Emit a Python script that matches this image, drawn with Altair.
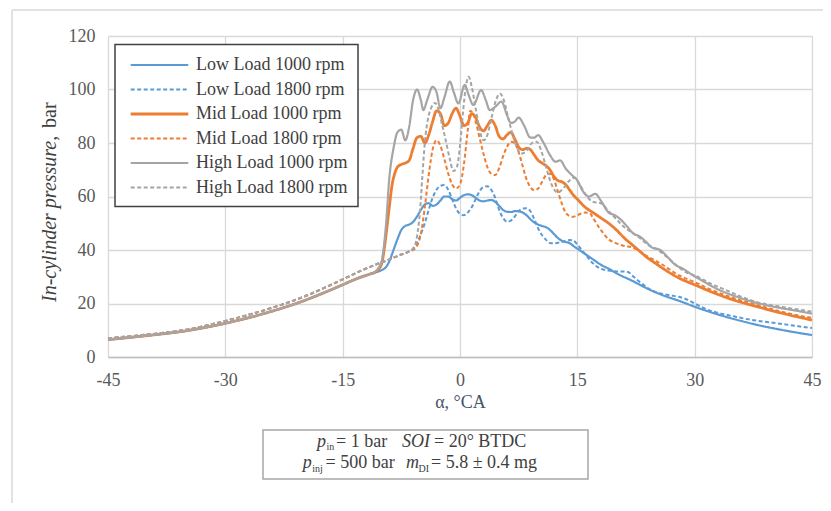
import altair as alt
import pandas as pd

# ---------------- data ----------------
SERIES = ["Low Load 1000 rpm", "Low Load 1800 rpm", "Mid Load 1000 rpm",
          "Mid Load 1800 rpm", "High Load 1000 rpm", "High Load 1800 rpm"]
COLORS = ["#5B9BD5", "#5B9BD5", "#ED7D31", "#ED7D31", "#A5A5A5", "#A5A5A5"]
DASHES = [[1, 0], [4, 2.5], [1, 0], [4, 2.5], [1, 0], [4, 2.5]]
WIDTHS = [2.2, 2.0, 2.8, 2.0, 2.2, 2.0]

X_TICKS = [-45, -30, -15, 0, 15, 30, 45]
Y_TICKS = [0, 20, 40, 60, 80, 100, 120]

# compression part shared by the 1000 rpm (solid) and 1800 rpm (dashed) curves
COMP_SOLID_A = [-45, -40, -35, -30, -25, -20, -17, -15, -13, -11.5]
COMP_SOLID_P = [6.5, 8.0, 9.8, 12.6, 16.3, 21.0, 24.5, 27.0, 29.5, 31.0]
COMP_DASH_A = [-45, -40, -35, -30, -25, -20, -17, -15, -13, -11, -9, -7.5]
COMP_DASH_P = [7.0, 8.4, 10.2, 13.5, 17.5, 22.5, 26.3, 29.0, 31.8, 34.3, 36.5, 38.3]

LOW1000_A = [-11, -10, -9.5, -9, -8.5, -8, -7.5, -7, -6.5, -6, -5.5, -5, -4.5, -4, -3.5, -3, -2.5, -2,
             -1.5, -1, -0.5, 0, 0.5, 1, 1.5, 2, 2.5, 3, 3.5, 4, 4.5, 5, 5.5, 6, 6.5, 7, 7.5, 8, 8.5, 9,
             9.5, 10, 10.5, 11, 11.5, 12, 12.5, 13, 13.5, 14, 14.5, 15, 16, 17, 18, 19, 20, 22, 24, 26,
             28, 30, 32, 35, 38, 41, 45]
LOW1000_P = [31.5, 32.5, 33.5, 36, 40, 44, 47.5, 49, 49.5, 50.5, 52.5, 55, 57, 57.5, 56.5, 57, 58.5, 60,
             60, 59, 58.5, 59.5, 60.5, 60.8, 60.5, 59.5, 58.5, 58.2, 58.5, 58.7, 58, 56.5, 55, 54.3, 54.2,
             54.5, 54.5, 54, 53, 51.5, 50.3, 49.5, 49, 48.5, 47.5, 46, 44.5, 43.5, 43, 42.6, 41.5, 40.5,
             38.5, 36.5, 34.5, 33, 31.3, 28.5, 25.5, 23, 21, 18.8, 16.8, 14.2, 12, 10.2, 8.2]

LOW1800_A = [-7, -6.5, -6, -5.5, -5, -4.5, -4, -3.5, -3, -2.5, -2, -1.5, -1, -0.5, 0, 0.5, 1, 1.5, 2,
             2.5, 3, 3.5, 4, 4.5, 5, 5.5, 6, 6.5, 7, 7.5, 8, 8.5, 9, 9.5, 10, 10.5, 11, 11.5, 12, 13, 14,
             14.5, 15, 16, 17, 18, 19, 20, 21, 21.5, 22, 23, 24, 25, 26, 27, 28, 29, 30, 31, 32, 33, 35,
             37, 40, 42, 45]
LOW1800_P = [38.8, 39.5, 40.5, 42.5, 46, 50, 55, 59.5, 62.5, 64, 64.3, 62.5, 59, 55.5, 53.5, 53, 54, 56,
             59, 62, 63.5, 63.8, 62.5, 59.5, 55, 52, 50.6, 51, 52.5, 54.5, 55.5, 55.6, 54.5, 51.5, 48,
             45.5, 43.8, 42.6, 42.5, 43, 43.7, 43.5, 42, 38.5, 35, 33, 32.3, 32, 32, 31.8, 30.5, 28, 25.8,
             24.3, 23.5, 23, 22.5, 21.5, 20, 18.5, 17.3, 16.5, 15.2, 14, 12.8, 12, 10.8]

MID1000_A = [-11, -10.5, -10, -9.7, -9.4, -9, -8.7, -8.3, -8, -7.5, -7, -6.5, -6, -5.5, -5, -4.5, -4,
             -3.5, -3, -2.5, -2, -1.5, -1, -0.5, 0, 0.5, 1, 1.5, 2, 2.5, 3, 3.5, 4, 4.5, 5, 5.5, 6, 6.5,
             7, 7.5, 8, 8.5, 9, 9.5, 10, 10.5, 11, 11.5, 12, 12.5, 13, 13.5, 14, 14.5, 15, 16, 17, 18,
             19, 20, 21, 22, 23, 24, 25, 26, 28, 30, 32, 35, 38, 41, 45]
MID1000_P = [31.5, 32.5, 35, 40, 47, 57, 64, 69, 71, 72, 72.5, 73.5, 78, 82, 82.5, 80, 83, 88, 92, 91,
             86.5, 87.5, 91, 93, 90, 86.5, 87.5, 91, 89.5, 86, 84.5, 86.5, 88.5, 86.5, 82.5, 81.5, 83, 84,
             81.5, 78.5, 77.5, 78, 77.5, 75.5, 73.5, 72.5, 71.5, 70, 67.5, 66, 65.5, 64.5, 62.5, 60.5, 59,
             56, 54, 52, 50, 47.5, 44.5, 42, 39.5, 37, 35, 33, 29.5, 27, 24.5, 21.3, 18.8, 16.5, 13.8]

MID1800_A = [-7, -6.5, -6, -5.5, -5, -4.5, -4, -3.5, -3, -2.5, -2, -1.5, -1, -0.5, 0, 0.5, 1, 1.3, 1.7,
             2, 2.5, 3, 3.5, 4, 4.5, 5, 5.5, 6, 6.5, 7, 7.5, 8, 8.5, 9, 9.5, 10, 10.5, 11, 11.5, 12, 12.5,
             13, 13.5, 14, 14.5, 15, 16, 16.6, 17, 18, 19, 20, 21, 22, 23, 24, 25, 26, 28, 30, 32, 35,
             38, 41, 45]
MID1800_P = [38.8, 39.5, 40, 41.5, 46, 56, 68, 77.5, 81, 79, 74, 68.5, 64.5, 63, 64.5, 72, 85, 92, 91,
             88, 82, 76, 71, 68.5, 68, 70.5, 75, 78.5, 80.5, 80, 76.5, 71.5, 66.5, 63.5, 62.4, 63, 65.5,
             68, 68.5, 66.5, 62, 57.5, 54, 52.7, 52.4, 53, 54, 53.8, 52, 47.5, 44, 42.5, 41.5, 41, 39.5,
             37.5, 36, 34.3, 30.5, 28, 25.3, 22, 19.5, 17, 14.6]

HIGH1000_A = [-11, -10.5, -10, -9.5, -9, -8.5, -8, -7.5, -7, -6.5, -6, -5.5, -5, -4.7, -4.2, -3.5, -3,
              -2.5, -2, -1.3, -0.8, -0.2, 0.6, 1.1, 1.7, 2.7, 3.3, 3.8, 4.5, 5.3, 6, 6.5, 7, 7.5, 8.2,
              9, 9.5, 10, 10.6, 11.5, 12.2, 12.8, 13.5, 14.3, 15, 15.7, 16.5, 17.3, 18, 19, 19.8, 20.5,
              21.3, 22.1, 23, 23.8, 24.5, 25.6, 26.5, 27.5, 28.5, 29.8, 31, 32.5, 34, 35.4, 37, 39, 41,
              43, 45]
HIGH1000_P = [31.5, 33, 36, 48, 68, 78, 84, 85, 81, 86, 96, 100, 96, 92.3, 96, 101, 99, 93, 97, 103, 99,
              94.8, 101.7, 98, 94.2, 99.8, 96, 92.3, 93.5, 95.5, 90.5, 87.5, 88, 89.5, 86.5, 82, 82, 83,
              80.5, 75.5, 73, 73.5, 70.5, 68, 66, 62, 60, 61, 58.5, 54, 53, 51.5, 49, 46.3, 45, 43, 41,
              40, 37.5, 34.5, 33, 30.5, 28.5, 26, 24, 22.5, 21, 19.5, 18.3, 17.3, 16.2]

HIGH1800_A = [-7, -6.5, -6, -5.5, -5.1, -4.8, -4.5, -4.1, -3.7, -3.2, -2.7, -2.3, -1.9, -1.3, -0.85,
              -0.4, 0, 0.4, 0.8, 1.1, 1.5, 2, 2.5, 3, 3.5, 4, 4.6, 5.1, 5.6, 6.2, 7, 7.8, 8.5, 9.2, 9.8,
              10.4, 11, 11.7, 12.5, 13.2, 14, 14.6, 15.2, 16, 17, 18, 19, 20, 21, 22, 23, 24, 25, 26, 27,
              28, 29, 30, 32, 34, 36, 38, 40, 42, 45]
HIGH1800_P = [38.8, 39.5, 40.5, 45, 55, 68, 80, 89, 93, 95, 92, 87, 82, 74, 69.5, 71, 79, 92, 102, 104.8,
              101, 93, 85, 81, 83, 89, 96, 98.5, 96, 89, 80.5, 76, 77, 80, 80.5, 77, 71, 64.5, 61.5, 63,
              66, 67, 65, 61, 58, 57.5, 54.5, 51.5, 48.5, 46.5, 44.5, 42, 40.5, 38.5, 36, 33.5, 31.5,
              30.5, 27.5, 25, 22.5, 20.5, 19.3, 18.3, 17]

# annotation box text pieces: (text, x, y) in pixels relative to plot origin
NOTE_ITALIC = [("p", 209, 411), ("SOI", 294, 411), ("p", 194.7, 432), ("m", 298, 432)]
NOTE_NORMAL = [("= 1 bar", 228, 411), ("= 20° BTDC", 326, 411),
               ("= 500 bar", 217.5, 432), ("= 5.8 ± 0.4 mg", 323, 432)]
NOTE_SUB = [("in", 218.5, 414), ("inj", 204.2, 435.5), ("DI", 310.5, 435.5)]

FONT = "Liberation Serif"

# ---------------- build table ----------------
parts = [
    (SERIES[0], COMP_SOLID_A + LOW1000_A, COMP_SOLID_P + LOW1000_P),
    (SERIES[1], COMP_DASH_A + LOW1800_A, COMP_DASH_P + LOW1800_P),
    (SERIES[2], COMP_SOLID_A + MID1000_A, COMP_SOLID_P + MID1000_P),
    (SERIES[3], COMP_DASH_A + MID1800_A, COMP_DASH_P + MID1800_P),
    (SERIES[4], COMP_SOLID_A + HIGH1000_A, COMP_SOLID_P + HIGH1000_P),
    (SERIES[5], COMP_DASH_A + HIGH1800_A, COMP_DASH_P + HIGH1800_P),
]
frames = []
for i, (name, a, p) in enumerate(parts):
    d = pd.DataFrame({"angle": a, "pressure": p})
    d["series"] = name
    d["z"] = i
    frames.append(d)
df = pd.concat(frames, ignore_index=True)

legend = alt.Legend(
    title=None, orient="none", legendX=7, legendY=8.5,
    symbolType="M-3.2,0H3.2", symbolSize=324, symbolOffset=24,
    labelOffset=26, labelFont=FONT, labelFontSize=18, labelColor="#404040",
    labelLimit=300, padding=10, rowPadding=5,
    strokeColor="#404040", fillColor="white",
)

lines = alt.Chart(df).mark_line(interpolate="monotone").encode(
    x=alt.X("angle:Q", scale=alt.Scale(domain=[-45, 45], nice=False),
            axis=alt.Axis(values=X_TICKS, title="α, °CA", labelExpr="'' + datum.value")),
    y=alt.Y("pressure:Q", scale=alt.Scale(domain=[0, 120], nice=False),
            axis=alt.Axis(values=Y_TICKS, title=None)),
    color=alt.Color("series:N", scale=alt.Scale(domain=SERIES, range=COLORS), legend=legend),
    strokeDash=alt.StrokeDash("series:N", scale=alt.Scale(domain=SERIES, range=DASHES), legend=legend),
    strokeWidth=alt.StrokeWidth("series:N", scale=alt.Scale(type="ordinal", domain=SERIES, range=WIDTHS),
                                legend=legend),
    order="z:Q",
)

one = pd.DataFrame({"k": [0]})

box = alt.Chart(one).mark_rect(fill="white", stroke="#a6a6a6", strokeWidth=1.5).encode(
    x=alt.value(155), x2=alt.value(480), y=alt.value(394), y2=alt.value(443))


def text_layer(items, italic, size):
    d = pd.DataFrame(items, columns=["t", "px", "py"])
    return alt.Chart(d).mark_text(
        font=FONT, fontSize=size, fontStyle="italic" if italic else "normal",
        align="left", baseline="alphabetic", color="#404040",
    ).encode(x=alt.X("px:Q", scale=None), y=alt.Y("py:Q", scale=None), text="t:N")


note_i = text_layer(NOTE_ITALIC, True, 18)
note_n = text_layer(NOTE_NORMAL, False, 18)
note_s = text_layer(NOTE_SUB, False, 10)

ytitle_i = alt.Chart(one).mark_text(
    text="In-cylinder pressure,", font=FONT, fontSize=20, fontStyle="italic",
    angle=270, align="left", baseline="middle", color="#404040",
).encode(x=alt.value(-58), y=alt.value(266))
ytitle_n = alt.Chart(one).mark_text(
    text="bar", font=FONT, fontSize=20, angle=270, align="left",
    baseline="middle", color="#404040",
).encode(x=alt.value(-58), y=alt.value(92))

border_top = alt.Chart(one).mark_rule(color="#d9d9d9", strokeWidth=1.5).encode(
    x=alt.value(-96), x2=alt.value(720), y=alt.value(-26))
border_left = alt.Chart(one).mark_rule(color="#d9d9d9", strokeWidth=1.5).encode(
    x=alt.value(-96), y=alt.value(-26), y2=alt.value(470))

chart = alt.layer(
    border_top, border_left, lines, box, note_i, note_n, note_s, ytitle_i, ytitle_n
).properties(
    width=704, height=321,
    padding={"left": 100, "top": 28, "right": 11, "bottom": 146},
    autosize=alt.AutoSizeParams(type="none"),
).configure_view(stroke=None).configure_axis(
    grid=True, gridColor="#d9d9d9", gridWidth=1.3, ticks=False,
    labelFont=FONT, labelFontSize=18, labelColor="#595959",
    titleFont=FONT, titleFontSize=18, titleColor="#44546A", titleFontWeight="normal",
).configure_axisX(
    domainColor="#bfbfbf", domainWidth=1.3, labelPadding=14, titlePadding=4, labelFlush=False,
).configure_axisY(
    domain=False, labelPadding=13,
).configure_legend(strokeWidth=1.5)

chart.save("out.html", embed_options={"renderer": "svg", "actions": False})
